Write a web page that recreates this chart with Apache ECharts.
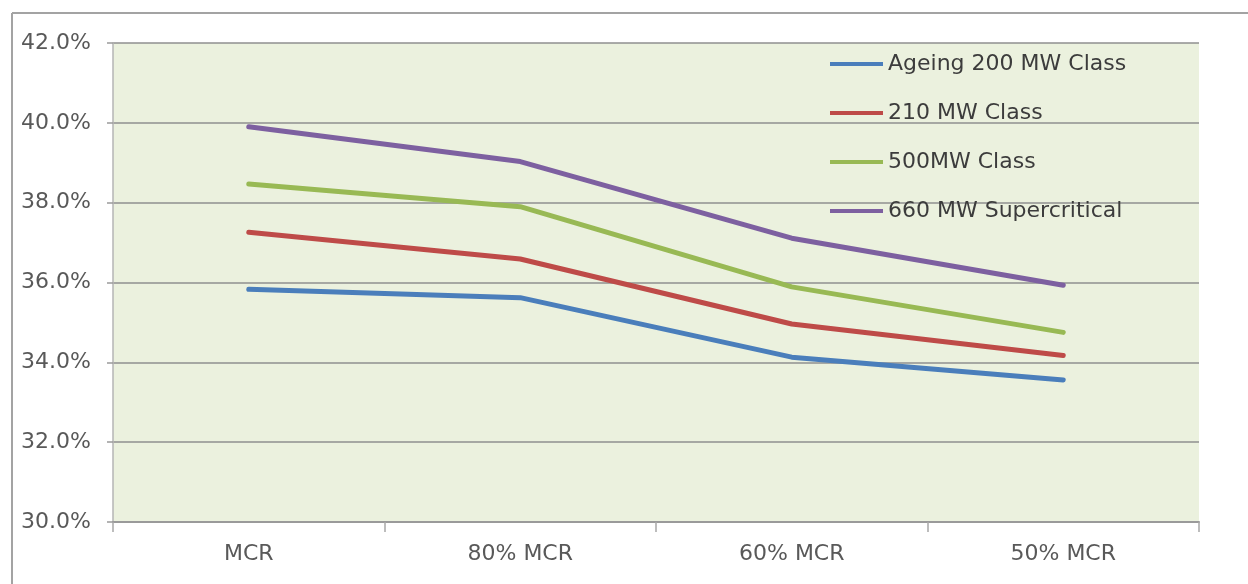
<!DOCTYPE html>
<html>
<head>
<meta charset="utf-8">
<script src="https://cdn.jsdelivr.net/npm/echarts@6/dist/echarts.min.js"></script>
<style>
  html, body { margin: 0; padding: 0; background: #ffffff; }
  #chart { width: 1248px; height: 584px; }
</style>
</head>
<body>
<div id="chart"></div>
<script>
// Load levels
const categories = ['MCR', '80% MCR', '60% MCR', '50% MCR'];

// Efficiency (%) by unit class
const ageing200 = [35.83, 35.62, 34.13, 33.56];
const class210 = [37.26, 36.59, 34.96, 34.17];
const class500 = [38.47, 37.90, 35.89, 34.75];
const super660 = [39.90, 39.03, 37.11, 35.93];

const seriesNames = ['Ageing 200 MW Class', '210 MW Class', '500MW Class', '660 MW Supercritical'];
const seriesColors = ['#4a7ebb', '#be4b48', '#98b954', '#7d60a0'];
const seriesData = [ageing200, class210, class500, super660];

const FONT = 'DejaVu Sans';

const chart = echarts.init(document.getElementById('chart'), null, { renderer: 'canvas' });

chart.setOption({
  animation: false,
  backgroundColor: '#ffffff',
  textStyle: { fontFamily: FONT },
  graphic: [
    { type: 'line', shape: { x1: 12, y1: 13, x2: 1260, y2: 13 }, style: { stroke: '#a3a3a3', lineWidth: 2 }, silent: true },
    { type: 'line', shape: { x1: 12, y1: 13, x2: 12, y2: 600 }, style: { stroke: '#a3a3a3', lineWidth: 2 }, silent: true }
  ],
  grid: {
    left: 113, right: 49, top: 43, bottom: 62,
    show: true,
    backgroundColor: '#ebf1de',
    borderWidth: 0
  },
  legend: {
    orient: 'vertical',
    left: 825,
    top: 46,
    icon: 'rect',
    itemWidth: 53,
    itemHeight: 4,
    itemGap: 23,
    textStyle: { fontFamily: FONT, fontSize: 22, color: '#3c3c3c', lineHeight: 26 },
    data: seriesNames
  },
  xAxis: {
    type: 'category',
    data: categories,
    boundaryGap: true,
    axisLine: { show: true, lineStyle: { color: '#9a9a9a', width: 2 } },
    axisTick: { show: true, length: 10, lineStyle: { color: '#a8a8a8', width: 1.5 } },
    axisLabel: { fontFamily: FONT, fontSize: 22, color: '#595959', margin: 21 },
    splitLine: { show: false }
  },
  yAxis: {
    type: 'value',
    min: 30,
    max: 42,
    interval: 2,
    axisLine: { show: true, lineStyle: { color: '#b5b5b5', width: 1.5 } },
    axisTick: { show: true, length: 6, lineStyle: { color: '#9a9a9a', width: 1.5 } },
    axisLabel: {
      fontFamily: FONT, fontSize: 22, color: '#595959', margin: 22,
      formatter: v => v.toFixed(1) + '%'
    },
    splitLine: { show: true, lineStyle: { color: '#8f8f8f', width: 1.5 } }
  },
  series: seriesData.map((d, i) => ({
    name: seriesNames[i],
    type: 'line',
    data: d,
    symbol: 'none',
    color: seriesColors[i],
    lineStyle: { width: 5, color: seriesColors[i], cap: 'round', join: 'round' }
  }))
});
</script>
</body>
</html>
